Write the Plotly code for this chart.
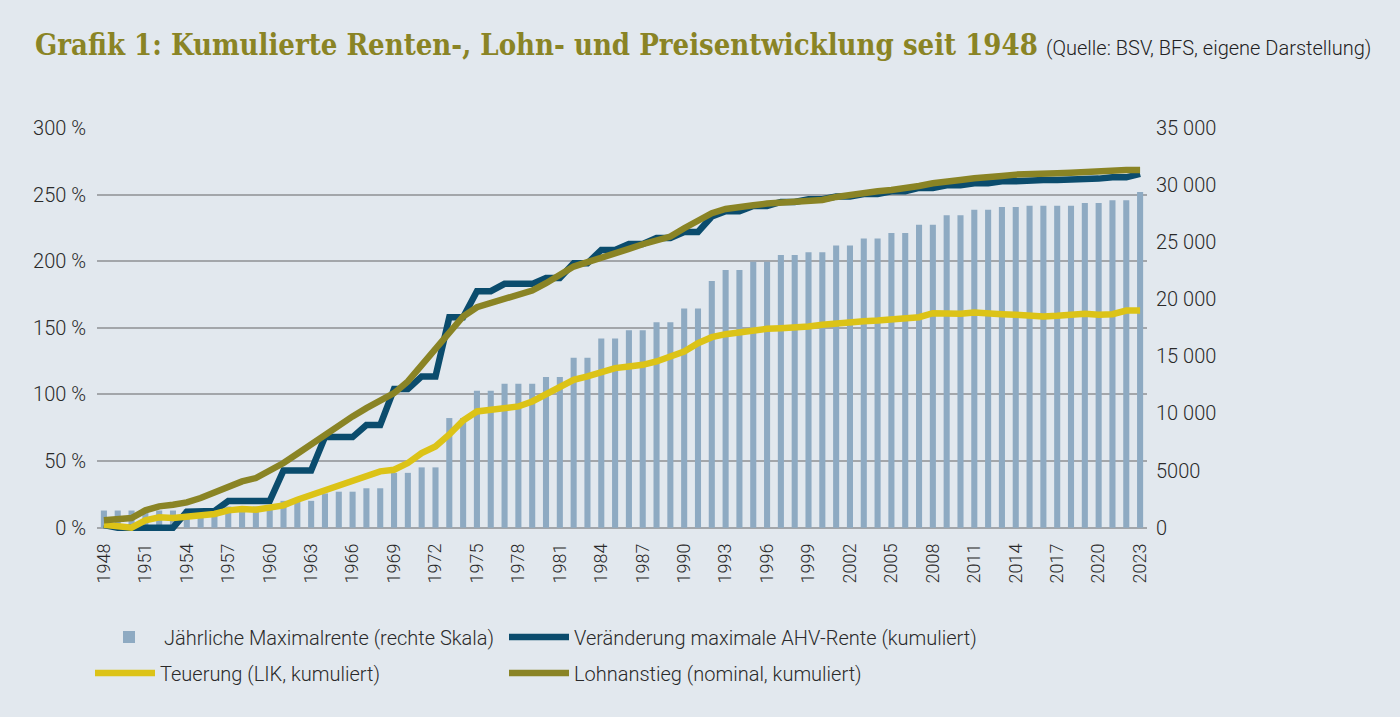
import plotly.graph_objects as go

years = list(range(1948, 2024))

max_rente = [1500, 1500, 1500, 1500, 1500, 1500,            # 1948-1953
             1620, 1620, 1620,                              # 1954-1956
             1850, 1850, 1850, 1850,                        # 1957-1960
             2350, 2350, 2350,                              # 1961-1963
             3000, 3150, 3150,                              # 1964-1966
             3450, 3450,                                    # 1967-1968
             4800, 4800, 5280, 5280,                        # 1969-1972
             9600, 9600, 12000, 12000,                      # 1973-1976
             12600, 12600, 12600, 13200, 13200,             # 1977-1981
             14880, 14880, 16560, 16560, 17280, 17280,      # 1982-1987
             18000, 18000, 19200, 19200, 21600,             # 1988-1992
             22560, 22560, 23280, 23280, 23880, 23880,      # 1993-1998
             24120, 24120, 24720, 24720, 25320, 25320,      # 1999-2004
             25800, 25800, 26520, 26520, 27360, 27360,      # 2005-2010
             27840, 27840, 28080, 28080,                    # 2011-2014
             28200, 28200, 28200, 28200,                    # 2015-2018
             28440, 28440, 28680, 28680, 29400]             # 2019-2023

ahv_rente = [2, 0, 0, 0, 0, 0,
             12, 12, 12.5,
             20, 20, 20, 20,
             43, 43, 43,
             68, 68, 68,
             77, 77,
             104, 104, 113.5, 113.5,
             158, 158, 177.5, 177.5,
             183, 183, 183, 187.5, 187.5,
             198.5, 198.5, 208.5, 208.5, 213, 213,
             217.5, 217.5, 222, 222, 233.5,
             237.5, 237.5, 241.5, 241.5, 244.5, 244.5,
             246.5, 246.5, 248.5, 248.5, 250.5, 250.5,
             252.5, 252.5, 255, 255, 257, 257,
             258.5, 258.5, 260, 260,
             261, 261, 261, 261,
             262, 262, 263, 263, 265.5]

teuerung = [2.25, 1.5, 0, 5.5, 7.75, 7.25, 8, 9, 10.25, 13,
            14, 13.5, 14.75, 16.75, 21, 24.75, 28, 31, 35.25, 39.75,
            42.25, 43.5, 48.5, 56, 61, 70, 80.5, 87.25, 88.5, 89.75,
            91, 94.75, 99.75, 106, 111, 113.5, 116.5, 119.75, 121, 122.25,
            124.75, 128, 132.25, 138.5, 143, 145.25, 146.75, 148.5, 149.25, 149.75,
            150, 151, 152.25, 153.5, 154, 155, 155.5, 156.5, 157.25, 158,
            161, 160.25, 160.5, 161.5, 160.5, 160.25, 159.75, 159, 158.5, 159,
            159.75, 160.5, 159.75, 160.25, 163, 163]

lohn = [5.5, 6, 7.25, 13, 16, 17.25, 19, 22.25, 26.5, 31,
        34.75, 37.25, 42.25, 48.5, 55.5, 62.75, 69.75, 76.5, 83.5, 89.75,
        94.75, 101, 109.75, 122, 133.5, 146, 158.5, 165.5, 168.5, 171,
        174, 178, 183.5, 189.75, 196, 199.25, 202.25, 205.5, 209.25, 212.75,
        216, 218.5, 224.75, 231, 236, 239.25, 241, 242, 243.25, 244,
        244.5, 245, 246, 248.25, 250, 251.5, 252.5, 253.5, 254.75, 256.5,
        258.5, 260.25, 261, 262.25, 262.75, 264, 265, 265, 265.5, 266,
        266.5, 267.25, 268, 268, 268.5, 268.5]

left_ticks = [0, 50, 100, 150, 200, 250, 300]
left_labels = ["0 %", "50 %", "100 %", "150 %", "200 %", "250 %", "300 %"]
right_ticks = [0, 5000, 10000, 15000, 20000, 25000, 30000, 35000]
right_labels = ["0", "5000", "10 000", "15 000", "20 000", "25 000", "30 000", "35 000"]
x_ticks = years[::3]

names = ["Jährliche Maximalrente (rechte Skala)",
         "Veränderung maximale AHV-Rente (kumuliert)",
         "Teuerung (LIK, kumuliert)",
         "Lohnanstieg (nominal, kumuliert)"]

BG = "#e2e8ee"
C_BAR = "#8eaac2"
C_BLUE = "#0b4c6d"
C_YEL = "#dcc317"
C_OLIVE = "#8a8425"
GRID = "#a3a6aa"
TXT = "#2a2a2a"
FONT = "Roboto"

fig = go.Figure()
fig.add_trace(go.Bar(x=years, y=max_rente, name=names[0], marker_color=C_BAR,
                     marker_line_width=0, yaxis="y", legend="legend"))
fig.add_trace(go.Scatter(x=years, y=ahv_rente, name=names[1], mode="lines",
                         line=dict(color=C_BLUE, width=6.5), yaxis="y2", legend="legend2"))
fig.add_trace(go.Scatter(x=years, y=teuerung, name=names[2], mode="lines",
                         line=dict(color=C_YEL, width=6.5), yaxis="y2", legend="legend3"))
fig.add_trace(go.Scatter(x=years, y=lohn, name=names[3], mode="lines",
                         line=dict(color=C_OLIVE, width=6.5), yaxis="y2", legend="legend4"))

tickfont = dict(family=FONT, size=20, color=TXT, weight=300)
legfont = dict(family=FONT, size=20, color=TXT, weight=300)


def leg(xpx, ypx):
    return dict(orientation="h", x=(xpx - 97) / 1050, y=(531 - ypx) / 403,
                xanchor="left", yanchor="middle", bgcolor="rgba(0,0,0,0)",
                font=legfont, itemwidth=60)


low = 2.5
fig.update_layout(
    width=1400, height=717,
    margin=dict(l=97, r=253, t=128, b=186),
    paper_bgcolor=BG, plot_bgcolor=BG,
    font=dict(family=FONT, size=17, color=TXT),
    bargap=0.56,
    showlegend=True,
    xaxis=dict(range=[1947.5, 2023.5], tickvals=x_ticks, ticktext=[str(v) for v in x_ticks],
               tickangle=-90, tickfont=dict(family=FONT, size=18, color=TXT, weight=300),
               showgrid=False, zeroline=False, showline=False, ticks="",
               ticklabelstandoff=8),
    yaxis=dict(side="right", range=[-35000 / 300 * low, 35000], tickvals=right_ticks,
               ticktext=right_labels, showgrid=False, zeroline=False, ticks="",
               tickfont=tickfont, ticklabelstandoff=8),
    yaxis2=dict(side="left", overlaying="y", range=[-low, 300], tickvals=left_ticks,
                ticktext=left_labels, showgrid=True, gridcolor=GRID, gridwidth=1.5,
                zeroline=False, ticks="", tickfont=tickfont, ticklabelstandoff=10),
    legend=leg(94, 637),
    legend2=leg(504, 637),
    legend3=leg(90, 673),
    legend4=leg(504, 673),
)

fig.add_annotation(
    xref="paper", yref="paper", x=(33 - 97) / 1050, y=(531 - 26) / 403,
    xanchor="left", yanchor="top", showarrow=False,
    text=("<b>Grafik 1: Kumulierte Renten-, Lohn- und Preisentwicklung seit 1948</b> "
          "<span style='font-family:Roboto; font-size:20px; font-weight:300; color:#222222'>"
          "(Quelle: BSV, BFS, eigene Darstellung)</span>"),
    font=dict(family="DejaVu Serif Condensed", size=29, color=C_OLIVE),
)

fig.write_html("out.html")
